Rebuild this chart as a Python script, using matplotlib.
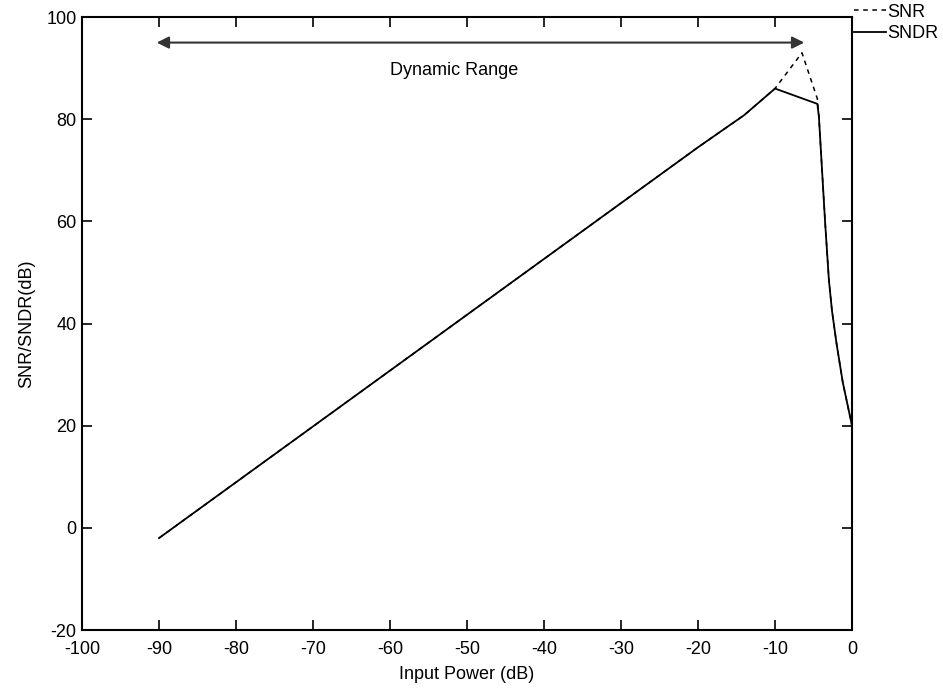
import matplotlib.pyplot as plt

# SNDR curve (dB) vs input power (dB)
sndr_x = [-90, -20, -14, -10, -4.5, -4.3, -3.5, -3, -2.6, -2, -1.2, 0]
sndr_y = [-2, 74.5, 80.8, 86, 83, 80.5, 60, 48.5, 42.5, 36, 28.5, 20]

# SNR curve: same as SNDR up to -10 dB, then the dashed peak
snr_x = [-90, -20, -14, -10, -6.5, -4.5, -4.3, -3.5, -3, -2.6, -2, -1.2, 0]
snr_y = [-2, 74.5, 80.8, 86, 93, 84, 80.5, 60, 48.5, 42.5, 36, 28.5, 20]

xticks = list(range(-100, 1, 10))
yticks = list(range(-20, 101, 20))

font = ['Liberation Sans Narrow', 'Liberation Sans', 'DejaVu Sans']
plt.rcParams['font.family'] = font
plt.rcParams['font.size'] = 13
plt.rcParams['axes.unicode_minus'] = False

fig = plt.figure(figsize=(9.43, 6.98), dpi=100)
ax = fig.add_axes([0.087, 0.0974, 0.8165, 0.8782])

ax.plot(snr_x, snr_y, color='black', linestyle=(0, (3, 3)), linewidth=1.1, label='SNR')
ax.plot(sndr_x, sndr_y, color='black', linestyle='-', linewidth=1.3, label='SNDR')

# dynamic range arrow
ax.annotate('', xy=(-90.3, 95), xytext=(-6.2, 95),
            arrowprops=dict(arrowstyle='<|-|>', color='#333333', lw=1.5,
                            mutation_scale=18, shrinkA=0, shrinkB=0))
ax.text(-60, 89.5, 'Dynamic Range', ha='left', va='center', fontsize=13)

ax.set_xlim(-100, 0)
ax.set_ylim(-20, 100)
ax.set_xticks(xticks)
ax.set_yticks(yticks)
ax.tick_params(direction='in', length=7, width=1.2, top=True, right=True, labelsize=13)
ax.tick_params(axis='x', pad=8)
ax.tick_params(axis='y', pad=4)
for s in ax.spines.values():
    s.set_linewidth(1.5)

ax.set_xlabel('Input Power (dB)', fontsize=13, labelpad=6)
ax.set_ylabel('SNR/SNDR(dB)', fontsize=13, labelpad=8)

ax.legend(loc='upper left', bbox_to_anchor=(1.003, 1.022), frameon=False,
          handlelength=1.75, handletextpad=0.05, labelspacing=0.25, fontsize=13,
          borderaxespad=0, borderpad=0)

fig.savefig('out.png', dpi=100)
